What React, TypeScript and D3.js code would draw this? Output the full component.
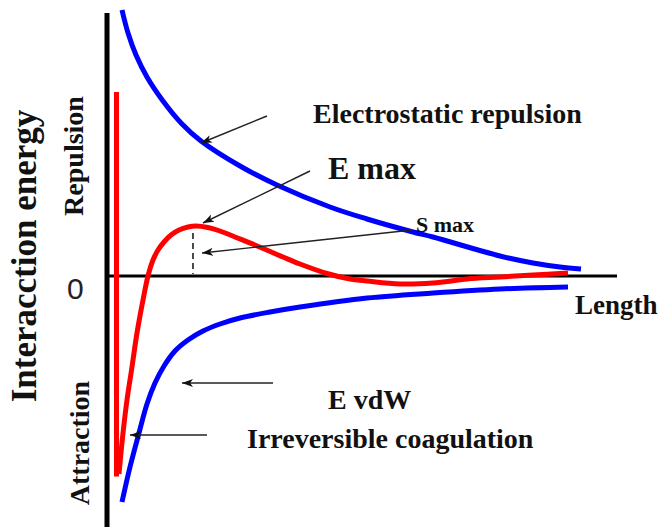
import React from "react";
import * as d3 from "d3";

// Length (arbitrary units) vs interaction energy (arbitrary units)
const repulsionLength = [0.294, 0.412, 0.569, 0.784, 1.098, 1.471, 1.843, 2.608, 3.333, 4.373, 5.098, 6.0, 6.392, 7.706, 8.353, 8.882, 9.294];
const repulsionEnergy = [5.32, 4.86, 4.42, 3.98, 3.5, 3.04, 2.7, 2.2, 1.82, 1.38, 1.14, 0.88, 0.78, 0.4, 0.26, 0.18, 0.14];

const vdwLength = [0.294, 0.451, 0.627, 0.784, 0.941, 1.118, 1.333, 1.588, 1.882, 2.216, 2.608, 3.196, 3.784, 5.098, 6.392, 7.706, 9.039];
const vdwEnergy = [-4.52, -3.82, -3.14, -2.56, -2.14, -1.8, -1.5, -1.28, -1.1, -0.96, -0.84, -0.72, -0.62, -0.44, -0.34, -0.26, -0.22];

const spikeLength = [0.186, 0.186, 0.235];
const spikeEnergy = [3.68, -3.96, -3.96];

const totalLength = [0.235, 0.314, 0.392, 0.49, 0.588, 0.706, 0.804, 0.902, 1.0, 1.118, 1.255, 1.412, 1.588, 1.745, 1.98, 2.216, 2.51, 2.902, 3.451, 3.784, 4.314, 4.765, 5.098, 5.745, 6.392, 7.059, 7.706, 8.353, 9.039];
const totalEnergy = [-3.96, -3.14, -2.48, -1.82, -1.14, -0.48, 0, 0.32, 0.52, 0.68, 0.82, 0.92, 0.98, 1.0, 0.97, 0.9, 0.78, 0.62, 0.38, 0.24, 0.05, -0.06, -0.1, -0.16, -0.14, -0.06, -0.02, 0.02, 0.06];

const W = 658;
const H = 527;

const x = d3.scaleLinear().domain([0, 10]).range([107, 617]);
const y = d3.scaleLinear().domain([-5, 5]).range([526, 26]);

const zip = (a: number[], b: number[]) => a.map((v, i) => [v, b[i]] as [number, number]);

const smooth = d3
  .line<[number, number]>()
  .x((d) => x(d[0]))
  .y((d) => y(d[1]))
  .curve(d3.curveCatmullRom.alpha(0.5));
const straight = d3
  .line<[number, number]>()
  .x((d) => x(d[0]))
  .y((d) => y(d[1]));

const serif = "'Liberation Serif', 'Times New Roman', serif";

function Arrow({ from, to }: { from: [number, number]; to: [number, number] }) {
  return (
    <line
      x1={x(from[0])}
      y1={y(from[1])}
      x2={x(to[0])}
      y2={y(to[1])}
      stroke="#222"
      strokeWidth={1.4}
      markerEnd="url(#ah)"
    />
  );
}

export default function App() {
  return (
    <svg
      width={W}
      height={H}
      style={{ position: "absolute", left: 0, top: 0, display: "block", background: "#fff" }}
    >
      <defs>
        <marker
          id="ah"
          markerUnits="userSpaceOnUse"
          markerWidth={12}
          markerHeight={10}
          refX={11}
          refY={5}
          orient="auto"
        >
          <path d="M0,1 L11,5 L0,9 L3,5 Z" fill="#111" />
        </marker>
      </defs>

      {/* axes */}
      <line x1={x(0)} x2={x(0)} y1={y(5.26)} y2={H} stroke="#000" strokeWidth={5} />
      <line x1={x(0)} x2={x(10)} y1={y(0)} y2={y(0)} stroke="#000" strokeWidth={3} />

      {/* curves */}
      <path d={smooth(zip(repulsionLength, repulsionEnergy)) || ""} fill="none" stroke="#0000ff" strokeWidth={5} />
      <path d={smooth(zip(vdwLength, vdwEnergy)) || ""} fill="none" stroke="#0000ff" strokeWidth={5} />
      <path d={straight(zip(spikeLength, spikeEnergy)) || ""} fill="none" stroke="#ff0000" strokeWidth={5} />
      <path d={smooth(zip(totalLength, totalEnergy)) || ""} fill="none" stroke="#ff0000" strokeWidth={5} />

      {/* dashed line under the maximum */}
      <line
        x1={x(1.686)}
        x2={x(1.686)}
        y1={y(0.86)}
        y2={y(0.04)}
        stroke="#111"
        strokeWidth={1.5}
        strokeDasharray="6 4"
      />

      {/* arrows */}
      <Arrow from={[3.137, 3.2]} to={[1.843, 2.66]} />
      <Arrow from={[3.98, 2.1]} to={[1.882, 1.06]} />
      <Arrow from={[5.98, 0.92]} to={[1.863, 0.46]} />
      <Arrow from={[3.255, -2.14]} to={[1.471, -2.14]} />
      <Arrow from={[1.961, -3.18]} to={[0.451, -3.18]} />

      {/* labels */}
      <g fontFamily={serif} fontWeight="bold" fill="#111">
        <text x={313} y={123} fontSize={28}>Electrostatic repulsion</text>
        <text x={328} y={179} fontSize={32}>E max</text>
        <text x={416} y={232} fontSize={22}>S max</text>
        <text x={575} y={314} fontSize={27}>Length</text>
        <text x={328} y={409} fontSize={28}>E vdW</text>
        <text x={247} y={448} fontSize={28}>Irreversible coagulation</text>
        <text transform="translate(83,156) rotate(-90)" textAnchor="middle" fontSize={28}>
          Repulsion
        </text>
        <text transform="translate(89,443) rotate(-90)" textAnchor="middle" fontSize={28}>
          Attraction
        </text>
        <text transform="translate(36,256) rotate(-90)" textAnchor="middle" fontSize={35}>
          Interacction energy
        </text>
      </g>
      <text x={67} y={299} fontFamily="'Liberation Sans', Arial, sans-serif" fontSize={30} fill="#222">
        0
      </text>
    </svg>
  );
}
